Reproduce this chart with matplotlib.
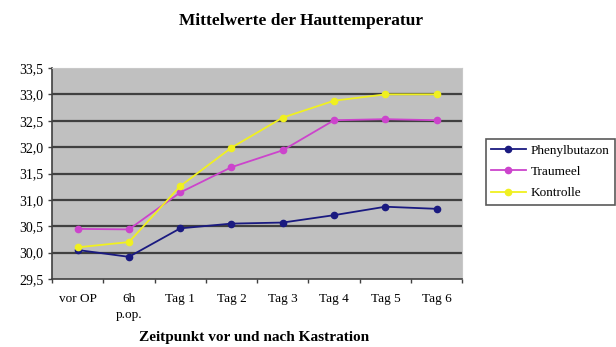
import matplotlib
matplotlib.use("Agg")
import matplotlib.pyplot as plt
import numpy as np

categories = ["vor OP", "6h\np.op.", "Tag 1", "Tag 2", "Tag 3", "Tag 4", "Tag 5", "Tag 6"]
phenylbutazon = [30.05, 29.92, 30.46, 30.55, 30.57, 30.71, 30.87, 30.83]
traumeel = [30.45, 30.44, 31.14, 31.62, 31.94, 32.51, 32.53, 32.51]
kontrolle = [30.10, 30.20, 31.26, 31.99, 32.56, 32.88, 33.00, 33.00]
yticks = [29.5, 30.0, 30.5, 31.0, 31.5, 32.0, 32.5, 33.0, 33.5]
ytick_labels = ["29,5", "30,0", "30,5", "31,0", "31,5", "32,0", "32,5", "33,0", "33,5"]

plt.rcParams['font.family'] = ['Liberation Serif', 'DejaVu Serif']

fig = plt.figure(figsize=(6.16, 3.47), dpi=100)
ax = fig.add_axes([0.0844, 0.196, 0.666, 0.608])
ax.set_facecolor("#c0c0c0")

x = np.arange(len(categories))
ax.plot(x, phenylbutazon, color="#1a1a80", marker="o", ms=4.5, lw=1.3, label="Phenylbutazon", zorder=3)
ax.plot(x, traumeel, color="#cc44cc", marker="o", ms=4.5, lw=1.3, label="Traumeel", zorder=3)
ax.plot(x, kontrolle, color="#f0f020", marker="o", ms=4.5, lw=1.3, label="Kontrolle", zorder=3)

ax.set_ylim(29.5, 33.5)
ax.set_xlim(-0.5, len(categories) - 0.5)
ax.set_yticks(yticks)
ax.set_yticklabels(ytick_labels, fontsize=10)
for yv in yticks[1:-1]:
    ax.axhline(yv, color="#404040", lw=1.6, zorder=1)

ax.set_xticks(x)
ax.set_xticklabels(categories, fontsize=9.5, va="top", linespacing=1.45)
ax.tick_params(axis="x", length=0, pad=10)
ax.set_xticks(np.arange(-0.5, len(categories), 1.0), minor=True)
ax.tick_params(axis="x", which="minor", length=3, width=1, color="#404040", direction="out")
ax.tick_params(axis="y", length=3, width=1, color="#404040", direction="out", pad=3)

for s in ["top", "right"]:
    ax.spines[s].set_color("#c8c8c8")
    ax.spines[s].set_linewidth(0.8)
for s in ["left", "bottom"]:
    ax.spines[s].set_color("#404040")
    ax.spines[s].set_linewidth(1.2)

fig.text(0.489, 0.94, "Mittelwerte der Hauttemperatur", ha="center", va="center",
         fontsize=12.5, fontweight="bold")
fig.text(0.412, 0.026, "Zeitpunkt vor und nach Kastration", ha="center", va="center",
         fontsize=11, fontweight="bold")

leg = fig.legend(loc="upper left", bbox_to_anchor=(486 / 616, 1 - 139 / 347), fontsize=9.5,
                 frameon=True, fancybox=False, edgecolor="#303030",
                 handlelength=2.6, handletextpad=0.4, borderpad=0.4, labelspacing=0.7,
                 borderaxespad=0)
leg.get_frame().set_linewidth(1.2)

fig.savefig("out.png", dpi=100)
